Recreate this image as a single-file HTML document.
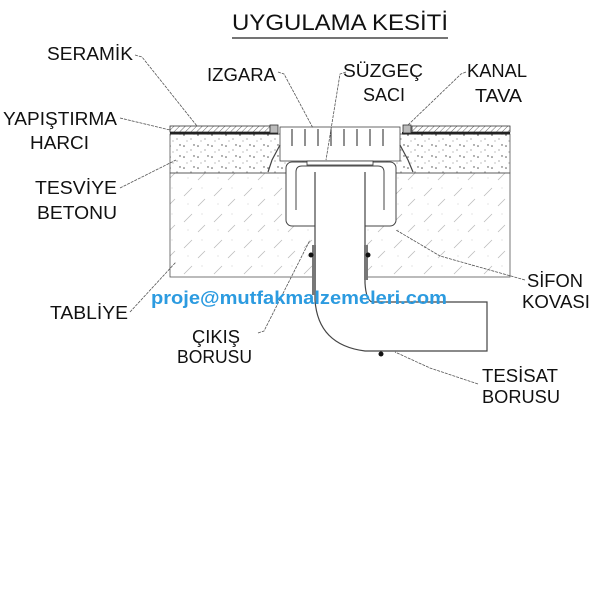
<!DOCTYPE html>
<html><head><meta charset="utf-8"><style>
html,body{margin:0;padding:0;background:#fff;}
svg{display:block;}
text{font-family:"Liberation Sans",sans-serif;fill:#111;}
</style></head><body>
<svg width="600" height="598" viewBox="0 0 600 598" xmlns="http://www.w3.org/2000/svg">
<defs>
<pattern id="hatch" width="4" height="4" patternUnits="userSpaceOnUse" patternTransform="rotate(45)">
<line x1="0" y1="0" x2="0" y2="4" stroke="#666" stroke-width="1"/></pattern>
<pattern id="dots" width="14" height="11" patternUnits="userSpaceOnUse">
<circle cx="2" cy="3" r="0.8" fill="#555"/><circle cx="9" cy="7" r="0.6" fill="#777"/><circle cx="5" cy="9" r="0.5" fill="#666"/><circle cx="12" cy="2" r="0.7" fill="#444"/></pattern>
<pattern id="conc" width="30" height="26" patternUnits="userSpaceOnUse">
<line x1="4" y1="14" x2="12" y2="6" stroke="#bbb" stroke-width="0.8"/><line x1="18" y1="24" x2="25" y2="17" stroke="#bbb" stroke-width="0.8"/><circle cx="22" cy="6" r="0.5" fill="#bbb"/><circle cx="8" cy="22" r="0.5" fill="#bbb"/></pattern>
</defs>

<text x="232" y="30" font-size="22" textLength="216" lengthAdjust="spacingAndGlyphs">UYGULAMA KESİTİ</text>
<line x1="232" y1="38" x2="448" y2="38" stroke="#222" stroke-width="1.2"/>

<rect x="170" y="173" width="340" height="104" fill="url(#conc)" stroke="#555" stroke-width="0.8"/>
<rect x="170" y="134" width="340" height="39" fill="url(#dots)" stroke="#555" stroke-width="0.8"/>
<rect x="170" y="126" width="100" height="6" fill="url(#hatch)" stroke="#333" stroke-width="0.8"/>
<rect x="412" y="126" width="98" height="6" fill="url(#hatch)" stroke="#333" stroke-width="0.8"/>
<rect x="170" y="132" width="108" height="2.5" fill="#222"/>
<rect x="402" y="132" width="108" height="2.5" fill="#222"/>
<rect x="270" y="125" width="8" height="8" fill="#bbb" stroke="#333" stroke-width="0.8"/>
<rect x="403" y="125" width="8" height="8" fill="#bbb" stroke="#333" stroke-width="0.8"/>

<rect x="280" y="127" width="120" height="34" fill="#fff" stroke="#444" stroke-width="0.8"/>
<g stroke="#222" stroke-width="1">
<line x1="292" y1="129" x2="292" y2="146"/><line x1="305" y1="129" x2="305" y2="146"/><line x1="318" y1="129" x2="318" y2="146"/><line x1="331" y1="129" x2="331" y2="146"/><line x1="344" y1="129" x2="344" y2="146"/><line x1="357" y1="129" x2="357" y2="146"/><line x1="370" y1="129" x2="370" y2="146"/><line x1="383" y1="129" x2="383" y2="146"/>
</g>
<path d="M280 145 L272 160 L268 172 M400 145 L408 160 L413 172" stroke="#444" fill="none" stroke-width="1.2"/>
<rect x="286" y="162" width="110" height="64" rx="6" fill="#fff" stroke="#444" stroke-width="1"/>
<path d="M296 210 L296 172 Q296 166 302 166 L378 166 Q384 166 384 172 L384 210" stroke="#444" fill="none" stroke-width="1"/>
<rect x="307" y="161" width="66" height="4" fill="#fff" stroke="#333" stroke-width="0.8"/>
<rect x="322" y="180" width="40" height="12" fill="#fff" stroke="#444" stroke-width="0.8"/>
<path d="M315 172 L315 300 Q318 345 365 351 L487 351 L487 302 L372 302 Q366 300 365 283 L365 172" fill="#fff" stroke="#444" stroke-width="1.2"/>
<rect x="312" y="245" width="4" height="50" fill="#777"/>
<rect x="364" y="245" width="4" height="35" fill="#777"/>
<circle cx="311" cy="255" r="2.5" fill="#111"/><circle cx="368" cy="255" r="2.5" fill="#111"/>
<circle cx="381" cy="354" r="2.5" fill="#111"/>

<g stroke="#555" stroke-width="0.8" fill="none" stroke-dasharray="3,1">
<path d="M135 55 L142 57 L197 126"/>
<path d="M120 118 L170 130"/>
<path d="M120 188 L176 160"/>
<path d="M130 312 L176 262"/>
<path d="M278 72 L284 74 L313 128"/>
<path d="M346 72 L340 74 L326 160"/>
<path d="M466 72 L461 74 L408 125"/>
<path d="M525 280 L440 256 L396 230"/>
<path d="M258 333 L264 331 L310 240"/>
<path d="M478 384 L430 368 L395 352"/>
</g>

<g font-size="18">
<text x="47" y="60" textLength="86" lengthAdjust="spacingAndGlyphs">SERAMİK</text>
<text x="3" y="125" textLength="114" lengthAdjust="spacingAndGlyphs">YAPIŞTIRMA</text>
<text x="30" y="149" textLength="59" lengthAdjust="spacingAndGlyphs">HARCI</text>
<text x="35" y="194" textLength="82" lengthAdjust="spacingAndGlyphs">TESVİYE</text>
<text x="37" y="219" textLength="80" lengthAdjust="spacingAndGlyphs">BETONU</text>
<text x="50" y="319" textLength="78" lengthAdjust="spacingAndGlyphs">TABLİYE</text>
<text x="207" y="81" textLength="69" lengthAdjust="spacingAndGlyphs">IZGARA</text>
<text x="343" y="77" textLength="80" lengthAdjust="spacingAndGlyphs">SÜZGEÇ</text>
<text x="363" y="101" textLength="42" lengthAdjust="spacingAndGlyphs">SACI</text>
<text x="467" y="77" textLength="60" lengthAdjust="spacingAndGlyphs">KANAL</text>
<text x="475" y="102" textLength="47" lengthAdjust="spacingAndGlyphs">TAVA</text>
<text x="527" y="287" textLength="56" lengthAdjust="spacingAndGlyphs">SİFON</text>
<text x="522" y="308" textLength="68" lengthAdjust="spacingAndGlyphs">KOVASI</text>
<text x="192" y="343" textLength="48" lengthAdjust="spacingAndGlyphs">ÇIKIŞ</text>
<text x="177" y="363" textLength="75" lengthAdjust="spacingAndGlyphs">BORUSU</text>
<text x="482" y="382" textLength="76" lengthAdjust="spacingAndGlyphs">TESİSAT</text>
<text x="482" y="403" textLength="78" lengthAdjust="spacingAndGlyphs">BORUSU</text>
</g>
<text x="151" y="304" font-size="18" font-weight="bold" textLength="296" lengthAdjust="spacingAndGlyphs" style="fill:#2c9be0">proje@mutfakmalzemeleri.com</text>
</svg>
</body></html>
